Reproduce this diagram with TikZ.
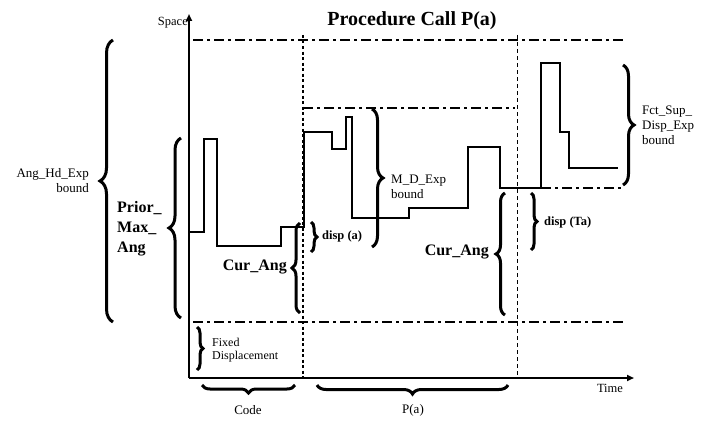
\documentclass[tikz,border=0pt]{standalone}
\usepackage{fontspec}
\setmainfont{Liberation Serif}
\usetikzlibrary{decorations.pathreplacing,arrows.meta}
\begin{document}
\begin{tikzpicture}[x=1pt,y=-1pt,
  axis/.style={line width=1.8pt,-{Triangle[length=7pt,width=6pt]}},
  wave/.style={line width=2.6pt,line join=miter},
  dashdot/.style={line width=1.8pt,dash pattern=on 10pt off 4pt on 3pt off 4pt},
  vline/.style={line width=1.4pt,dash pattern=on 3pt off 2.5pt},
  vlinethin/.style={line width=1pt,dash pattern=on 4pt off 3pt},
  brc/.style={decorate,decoration={brace,amplitude=#1},line width=3pt},
  lbl/.style={font=\fontsize{13}{14}\selectfont,inner sep=0pt},
  blbl/.style={font=\fontsize{16}{18}\selectfont\bfseries,inner sep=0pt},
  slbl/.style={font=\fontsize{12.5}{14}\selectfont\bfseries,inner sep=0pt}]
\path[use as bounding box] (0,0) rectangle (708,420);
% reference lines
\draw[dashdot] (193,40) -- (623,40);
\draw[dashdot] (303,108) -- (515,108);
\draw[dashdot] (541,188) -- (623,188);
\draw[dashdot] (193,322) -- (623,322);
\draw[vline] (303,35) -- (303,378);
\draw[vlinethin] (517,35) -- (517,378);
% axes
\coordinate (O) at (189,378);
\coordinate (Ytop) at (189,14);
\coordinate (Xend) at (634,378);
\draw[axis] (O) -- (Ytop);
\draw[axis] (O) -- (Xend);
% waveform
\draw[wave] (190,232) -- (204,232) -- (204,139) -- (217,139) -- (217,246)
  -- (281,246) -- (281,227) -- (304,227) -- (304,132) -- (332,132)
  -- (332,149) -- (346,149) -- (346,117) -- (352,117) -- (352,218)
  -- (409,218) -- (409,208) -- (468,208) -- (468,147) -- (500,147)
  -- (500,188) -- (541,188) -- (541,63) -- (560,63) -- (560,132)
  -- (569,132) -- (569,168) -- (618,168);
% braces
\draw[brc=13pt] (113,322) -- (113,40);
\draw[brc=12pt] (181,318) -- (181,138);
\draw[brc=8pt] (300,313) -- (300,223);
\draw[brc=6pt] (311,222) -- (311,252);
\draw[brc=11pt] (372,109) -- (372,247);
\draw[brc=9pt] (505,315) -- (505,193);
\draw[brc=6pt] (531,193) -- (531,250);
\draw[brc=11pt] (623,65) -- (623,185);
\draw[brc=6pt] (197,327) -- (197,370);
\draw[brc=8pt] (295,385) -- (202,385);
\draw[brc=9pt] (508,385) -- (317,385);
% texts
\node[font=\fontsize{20}{22}\selectfont\bfseries,inner sep=0pt] (title) at (412,21) {Procedure Call P(a)};
\node[lbl,anchor=east,font=\fontsize{12.5}{13}\selectfont] (space) at (188,23) {Space};
\node[lbl,font=\fontsize{12.5}{13}\selectfont] (time) at (610,388) {Time};
\node[lbl,anchor=east,align=right] (ahe) at (89,181) {Ang\_Hd\_Exp\\[1pt]bound};
\node[blbl,anchor=west,align=left] (pma) at (117,229) {Prior\_\\[2pt]Max\_\\[2pt]Ang};
\node[blbl,anchor=east] (ca1) at (287,267) {Cur\_Ang};
\node[slbl,anchor=west] (da) at (322,236) {disp (a)};
\node[lbl,anchor=west,align=left] (mde) at (391,187) {M\_D\_Exp\\[1pt]bound};
\node[blbl,anchor=east] (ca2) at (489,252) {Cur\_Ang};
\node[slbl,anchor=west] (dta) at (544,222) {disp (Ta)};
\node[lbl,anchor=west,align=left] (fsd) at (642,125) {Fct\_Sup\_\\[1pt]Disp\_Exp\\[1pt]bound};
\node[lbl,anchor=west,align=left,font=\fontsize{12}{13}\selectfont] (fd) at (212,350) {Fixed\\Displacement};
\node[lbl] (code) at (248,410) {Code};
\node[lbl] (pa) at (413,410) {P(a)};
\end{tikzpicture}
\end{document}
